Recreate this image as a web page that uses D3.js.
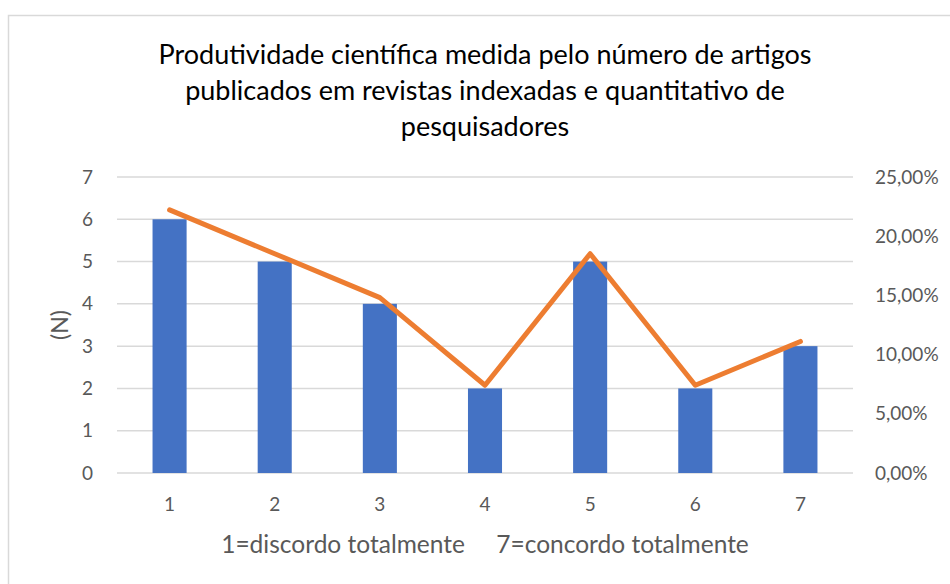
<!DOCTYPE html>
<html>
<head>
<meta charset="utf-8">
<script src="https://cdn.jsdelivr.net/npm/d3@7"></script>
<style>
  body { margin: 0; background: #fff; }
  svg { display: block; font-family: Lato, "Open Sans", sans-serif; }
</style>
</head>
<body>
<svg id="chart"></svg>
<script>
var w = 950;
var h = 584;

// data
var categories = ["1", "2", "3", "4", "5", "6", "7"];
var counts = [6, 5, 4, 2, 5, 2, 3];
var percents = [0.2222, 0.1852, 0.1481, 0.0741, 0.1852, 0.0741, 0.1111];
var leftTicks = [0, 1, 2, 3, 4, 5, 6, 7];
var rightTicks = [0, 0.05, 0.10, 0.15, 0.20, 0.25];
var titleLines = ["Produtividade científica medida pelo número de artigos",
    "publicados em revistas indexadas e quantitativo de",
    "pesquisadores"];

var margin = { left: 117, right: 97, top: 177, bottom: 111 };

var svg = d3.select("#chart")
    .attr("width", w)
    .attr("height", h);

// outer frame
svg.append("rect")
    .attr("x", 8.5).attr("y", 15.5)
    .attr("width", w + 10).attr("height", h + 10)
    .attr("fill", "none")
    .attr("stroke", "#d9d9d9")
    .attr("stroke-width", 1.5);

var x = d3.scaleBand()
    .domain(categories)
    .range([margin.left, w - margin.right])
    .paddingInner(0.676)
    .paddingOuter(0.338);

var y = d3.scaleLinear()
    .domain([0, 7])
    .range([h - margin.bottom, margin.top]);

var y2 = d3.scaleLinear()
    .domain([0, 0.25])
    .range([h - margin.bottom, margin.top]);

// gridlines
svg.append("g")
    .selectAll("line")
    .data(leftTicks)
    .enter()
    .append("line")
    .attr("x1", margin.left)
    .attr("x2", w - margin.right)
    .attr("y1", d => y(d))
    .attr("y2", d => y(d))
    .attr("stroke", "#d9d9d9")
    .attr("stroke-width", 1.5);

// left axis
var leftAxis = svg.append("g")
    .attr("transform", `translate(${margin.left - 24},0)`)
    .call(d3.axisLeft(y).tickValues(leftTicks).tickFormat(d3.format("d")).tickSize(0).tickPadding(0));
leftAxis.select(".domain").remove();
leftAxis.selectAll("text")
    .attr("fill", "#595959")
    .style("font-size", "19px")
    .style("font-family", "Lato, sans-serif");

// right axis
var fmt = d => (d * 100).toFixed(2).replace(".", ",") + "%";
var rightAxis = svg.append("g")
    .attr("transform", `translate(${w - margin.right + 22},0)`)
    .call(d3.axisRight(y2).tickValues(rightTicks).tickFormat(fmt).tickSize(0).tickPadding(0));
rightAxis.select(".domain").remove();
rightAxis.selectAll("text")
    .attr("fill", "#595959")
    .style("font-size", "19px")
    .style("font-family", "Lato, sans-serif");

// bottom axis
var bottomAxis = svg.append("g")
    .attr("transform", `translate(0,${h - margin.bottom + 24})`)
    .call(d3.axisBottom(x).tickSize(0).tickPadding(0));
bottomAxis.select(".domain").remove();
bottomAxis.selectAll("text")
    .attr("fill", "#595959")
    .style("font-size", "19px")
    .style("font-family", "Lato, sans-serif");

// bars
svg.append("g")
    .selectAll("rect")
    .data(counts)
    .enter()
    .append("rect")
    .attr("x", (d, i) => x(categories[i]))
    .attr("y", d => y(d))
    .attr("width", x.bandwidth())
    .attr("height", d => y(0) - y(d))
    .attr("fill", "#4472c4");

// percentage line
var line = d3.line()
    .x((d, i) => x(categories[i]) + x.bandwidth() / 2)
    .y(d => y2(d));
svg.append("path")
    .datum(percents)
    .attr("d", line)
    .attr("fill", "none")
    .attr("stroke", "#ed7d31")
    .attr("stroke-width", 5)
    .attr("stroke-linejoin", "round")
    .attr("stroke-linecap", "round");

// title
var cx = (margin.left + w - margin.right) / 2;
svg.append("g")
    .selectAll("text")
    .data(titleLines)
    .enter()
    .append("text")
    .attr("x", cx)
    .attr("y", (d, i) => 64 + i * 36)
    .attr("text-anchor", "middle")
    .attr("fill", "#000")
    .style("font-size", "27px")
    .text(d => d);

// axis titles
svg.append("text")
    .attr("x", cx)
    .attr("y", 553)
    .attr("text-anchor", "middle")
    .attr("fill", "#595959")
    .style("font-size", "24.5px")
    .style("white-space", "pre")
    .text("1=discordo totalmente     7=concordo totalmente");

svg.append("text")
    .attr("transform", "translate(68,325) rotate(-90)")
    .attr("text-anchor", "middle")
    .attr("fill", "#595959")
    .style("font-size", "23px")
    .text("(N)");
</script>
</body>
</html>
